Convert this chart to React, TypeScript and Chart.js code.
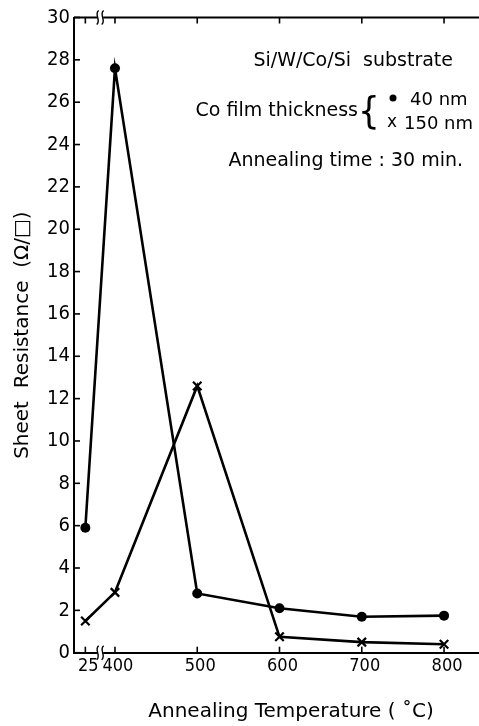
import React, { useEffect, useRef } from "react";
import { Chart, registerables } from "chart.js";

Chart.register(...registerables);

// ---- data ----
const temperatures = [25, 400, 500, 600, 700, 800];
const tickLabels = ["25", "400", "500", "600", "700", "800"];
const co40nm = [5.9, 27.6, 2.8, 2.1, 1.7, 1.75];
const co150nm = [1.5, 2.85, 12.6, 0.75, 0.5, 0.4];
const yMin = 0;
const yMax = 30;
const yStep = 2;

// broken axis: 25 °C is drawn just left of 400 °C
const BREAK_POS = 364;
const axisPos = (t: number) => (t < 300 ? BREAK_POS : t);

const TICK_FONT = '"DejaVu Sans Condensed", "DejaVu Sans", sans-serif';
const FONT = '"DejaVu Sans", sans-serif';
const W = 479;
const H = 726;

const decorPlugin = {
  id: "decor",
  afterDraw(chart: any) {
    const { ctx, chartArea: ca, scales } = chart;
    const xs = scales.x;
    const ys = scales.y;
    const line = (x1: number, y1: number, x2: number, y2: number) => {
      ctx.beginPath();
      ctx.moveTo(x1, y1);
      ctx.lineTo(x2, y2);
      ctx.stroke();
    };
    ctx.save();
    ctx.strokeStyle = "#000";
    ctx.fillStyle = "#000";
    ctx.lineCap = "butt";
    // top spine
    ctx.lineWidth = 2;
    line(ca.left, ca.top, ca.right, ca.top);
    // inward ticks
    ctx.lineWidth = 1.6;
    for (const t of ys.ticks) {
      const py = ys.getPixelForValue(t.value);
      line(ca.left, py, ca.left + 6, py);
    }
    for (const t of xs.ticks) {
      const px = xs.getPixelForValue(t.value);
      line(px, ca.bottom, px, ca.bottom - 6);
      line(px, ca.top, px, ca.top + 6);
    }
    // break marks
    const bx = xs.getPixelForValue((BREAK_POS + 400) / 2);
    for (const by of [ca.top, ca.bottom]) {
      ctx.fillStyle = "#fff";
      ctx.fillRect(bx - 3, by - 2, 6, 4);
      ctx.strokeStyle = "#000";
      ctx.lineWidth = 1.4;
      for (const dx of [-2.5, 2.5]) {
        const cx = bx + dx;
        ctx.beginPath();
        ctx.moveTo(cx + 1, by - 7);
        ctx.bezierCurveTo(cx - 4, by - 3, cx + 4, by + 3, cx - 1, by + 7);
        ctx.stroke();
      }
    }
    // annotations
    ctx.fillStyle = "#000";
    ctx.textBaseline = "middle";
    ctx.font = `19px ${FONT}`;
    ctx.textAlign = "right";
    ctx.fillText("Si/W/Co/Si  substrate", 453, 61);
    ctx.fillText("Co film thickness", 358, 111);
    ctx.fillText("Annealing time : 30 min.", 463, 161);
    ctx.textAlign = "left";
    ctx.font = `18px ${FONT}`;
    ctx.fillText("40 nm", 410, 100);
    ctx.fillText("150 nm", 404, 124);
    ctx.font = `17px ${FONT}`;
    ctx.fillText("x", 387, 123);
    ctx.beginPath();
    ctx.arc(393, 98, 3.5, 0, Math.PI * 2);
    ctx.fill();
    ctx.font = `38px ${TICK_FONT}`;
    ctx.fillText("{", 358, 113);
    // x title
    ctx.font = `20px ${FONT}`;
    ctx.textAlign = "center";
    ctx.fillText("Annealing Temperature ( \u02daC)", 291, 712);
    ctx.restore();
  },
};

export default function App() {
  const ref = useRef<HTMLCanvasElement>(null);
  useEffect(() => {
    if (!ref.current) return;
    const tickFont = { family: TICK_FONT, size: 20 };
    const chart = new Chart(ref.current, {
      type: "line",
      data: {
        datasets: [
          {
            label: "40 nm",
            data: temperatures.map((t, i) => ({ x: axisPos(t), y: co40nm[i] })),
            borderColor: "#000",
            backgroundColor: "#000",
            borderWidth: 2.6,
            pointStyle: "circle",
            pointRadius: 5,
            pointBorderWidth: 0,
            tension: 0,
          },
          {
            label: "150 nm",
            data: temperatures.map((t, i) => ({ x: axisPos(t), y: co150nm[i] })),
            borderColor: "#000",
            backgroundColor: "#000",
            borderWidth: 2.6,
            pointStyle: "crossRot",
            pointRadius: 6,
            pointBorderWidth: 2.2,
            tension: 0,
          },
        ],
      },
      options: {
        responsive: false,
        animation: false,
        layout: { autoPadding: false, padding: { top: 17.5, right: 0, left: 0, bottom: 0 } },
        plugins: { legend: { display: false }, tooltip: { enabled: false } },
        scales: {
          x: {
            type: "linear",
            min: 350.2,
            max: 842.5,
            afterBuildTicks: (s: any) => {
              s.ticks = temperatures.map((t) => ({ value: axisPos(t) }));
            },
            afterFit: (s: any) => {
              s.height = 73.3;
            },
            ticks: {
              autoSkip: false,
              maxRotation: 0,
              padding: 3,
              labelOffset: 3,
              color: "#000",
              font: { family: TICK_FONT, size: 18 },
              callback: (v: any) => {
                const i = temperatures.findIndex((t) => axisPos(t) === v);
                return i >= 0 ? tickLabels[i] : "";
              },
            },
            grid: { display: false, drawTicks: false },
            border: { display: true, color: "#000", width: 2 },
          },
          y: {
            min: yMin,
            max: yMax,
            afterFit: (s: any) => {
              s.width = 74;
            },
            ticks: {
              stepSize: yStep,
              padding: 4,
              color: "#000",
              font: tickFont,
            },
            grid: { display: false, drawTicks: false },
            border: { display: true, color: "#000", width: 2 },
            title: {
              display: true,
              text: "Sheet  Resistance  (\u03a9/\u25a1)",
              color: "#000",
              font: { family: FONT, size: 20 },
              padding: { top: 11, bottom: 0 },
            },
          },
        },
      },
      plugins: [decorPlugin],
    });
    return () => chart.destroy();
  }, []);
  return (
    <div style={{ position: "absolute", left: 0, top: 0, width: W, height: H, background: "#fff" }}>
      <canvas ref={ref} width={W} height={H} style={{ width: W, height: H, display: "block" }} />
    </div>
  );
}
